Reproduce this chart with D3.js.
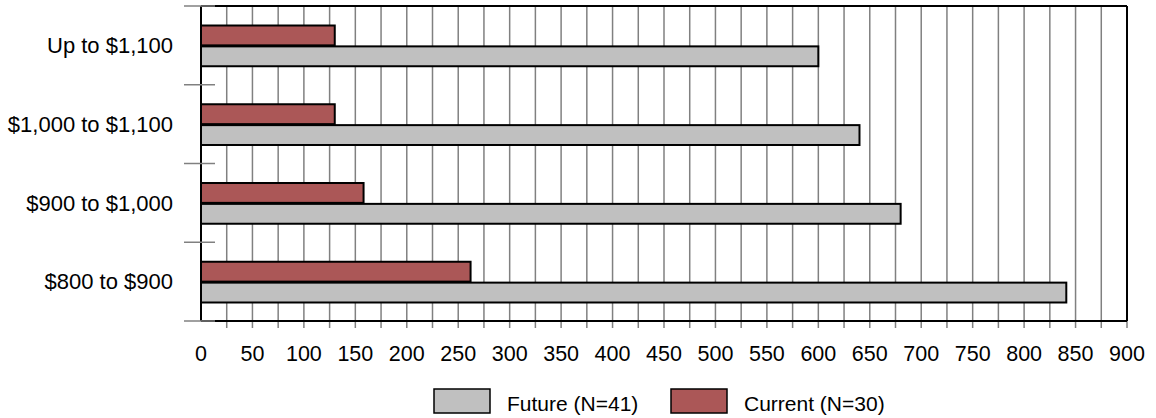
<!DOCTYPE html>
<html>
<head>
<meta charset="utf-8">
<script src="https://cdn.jsdelivr.net/npm/d3@7"></script>
<style>
  html, body { margin: 0; padding: 0; background: #fff; }
  svg { display: block; }
  text { font-family: "Liberation Sans", Arial, sans-serif; fill: #000; }
</style>
</head>
<body>
<svg id="chart" width="1156" height="418"></svg>
<script>
// Rent ranges (top to bottom) and bar values per series
const categories = ["Up to $1,100", "$1,000 to $1,100", "$900 to $1,000", "$800 to $900"];
const futureValues = [600, 640, 680, 841];
const currentValues = [130, 130, 158, 262];
const seriesNames = ["Current (N=30)", "Future (N=41)"];
const legendOrder = ["Future (N=41)", "Current (N=30)"];
const tickLabels = d3.range(0, 901, 50);
const gridValues = d3.range(0, 901, 25);

const colors = { "Current (N=30)": "#AB5757", "Future (N=41)": "#C0C0C0" };

const rows = categories.map((c, i) => ({
  category: c,
  values: [
    { series: "Current (N=30)", value: currentValues[i] },
    { series: "Future (N=41)", value: futureValues[i] }
  ]
}));

const svg = d3.select("#chart");
const plotLeft = 201, plotRight = 1127, plotTop = 6, plotBottom = 321;

const x = d3.scaleLinear().domain([0, 900]).range([plotLeft, plotRight]);
const y = d3.scaleBand().domain(categories).range([plotTop, plotBottom])
  .paddingInner(0.47).paddingOuter(0.235);
const ySub = d3.scaleBand().domain(seriesNames).range([0, y.bandwidth()]).padding(0);

// Vertical grid lines, continuing below the axis as tick marks
svg.append("g").selectAll("line").data(gridValues.filter(v => v > 0)).join("line")
  .attr("x1", d => x(d)).attr("x2", d => x(d))
  .attr("y1", plotTop).attr("y2", plotBottom + 7)
  .attr("stroke", "#808080").attr("stroke-width", 1.5);

// Plot frame
const frame = svg.append("g").attr("stroke", "#000").attr("stroke-width", 2).attr("fill", "none");
frame.append("line").attr("x1", plotLeft).attr("x2", plotRight).attr("y1", plotTop).attr("y2", plotTop);
frame.append("line").attr("x1", plotRight).attr("x2", plotRight).attr("y1", plotTop).attr("y2", plotBottom);
frame.append("line").attr("x1", plotLeft).attr("x2", plotRight).attr("y1", plotBottom).attr("y2", plotBottom);
frame.append("line").attr("x1", plotLeft).attr("x2", plotLeft).attr("y1", plotTop).attr("y2", plotBottom);

// Bars
const groups = svg.append("g").selectAll("g").data(rows).join("g")
  .attr("transform", d => `translate(0,${y(d.category)})`);
groups.selectAll("rect").data(d => d.values).join("rect")
  .attr("x", x(0))
  .attr("y", d => ySub(d.series) + 1)
  .attr("width", d => x(d.value) - x(0))
  .attr("height", ySub.bandwidth() - 1)
  .attr("fill", d => colors[d.series])
  .attr("stroke", "#000").attr("stroke-width", 2);

// Category separators on the value axis
const bounds = categories.map(c => y(c) - y.step() * y.paddingInner() / 2);
bounds[0] = plotTop;
bounds.push(plotBottom);
svg.append("g").selectAll("line").data(bounds).join("line")
  .attr("x1", 184).attr("x2", 215)
  .attr("y1", d => d).attr("y2", d => d)
  .attr("stroke", "#808080").attr("stroke-width", 1.5);

// Category labels
svg.append("g").selectAll("text").data(categories).join("text")
  .attr("x", 173)
  .attr("y", d => y(d) + y.bandwidth() / 2)
  .attr("dy", "0.35em")
  .attr("text-anchor", "end")
  .attr("font-size", 22)
  .text(d => d);

// Value axis labels
svg.append("g").selectAll("text").data(tickLabels).join("text")
  .attr("x", d => x(d))
  .attr("y", 361)
  .attr("text-anchor", "middle")
  .attr("font-size", 21.5)
  .text(d => d);

// Legend
const legendX = [434, 671];
const legend = svg.append("g").selectAll("g").data(legendOrder).join("g")
  .attr("transform", (d, i) => `translate(${legendX[i]},389)`);
legend.append("rect")
  .attr("width", 56).attr("height", 24)
  .attr("fill", d => colors[d])
  .attr("stroke", "#000").attr("stroke-width", 1.5);
legend.append("text")
  .attr("x", 73).attr("y", 22)
  .attr("font-size", 21)
  .text(d => d);
</script>
</body>
</html>
